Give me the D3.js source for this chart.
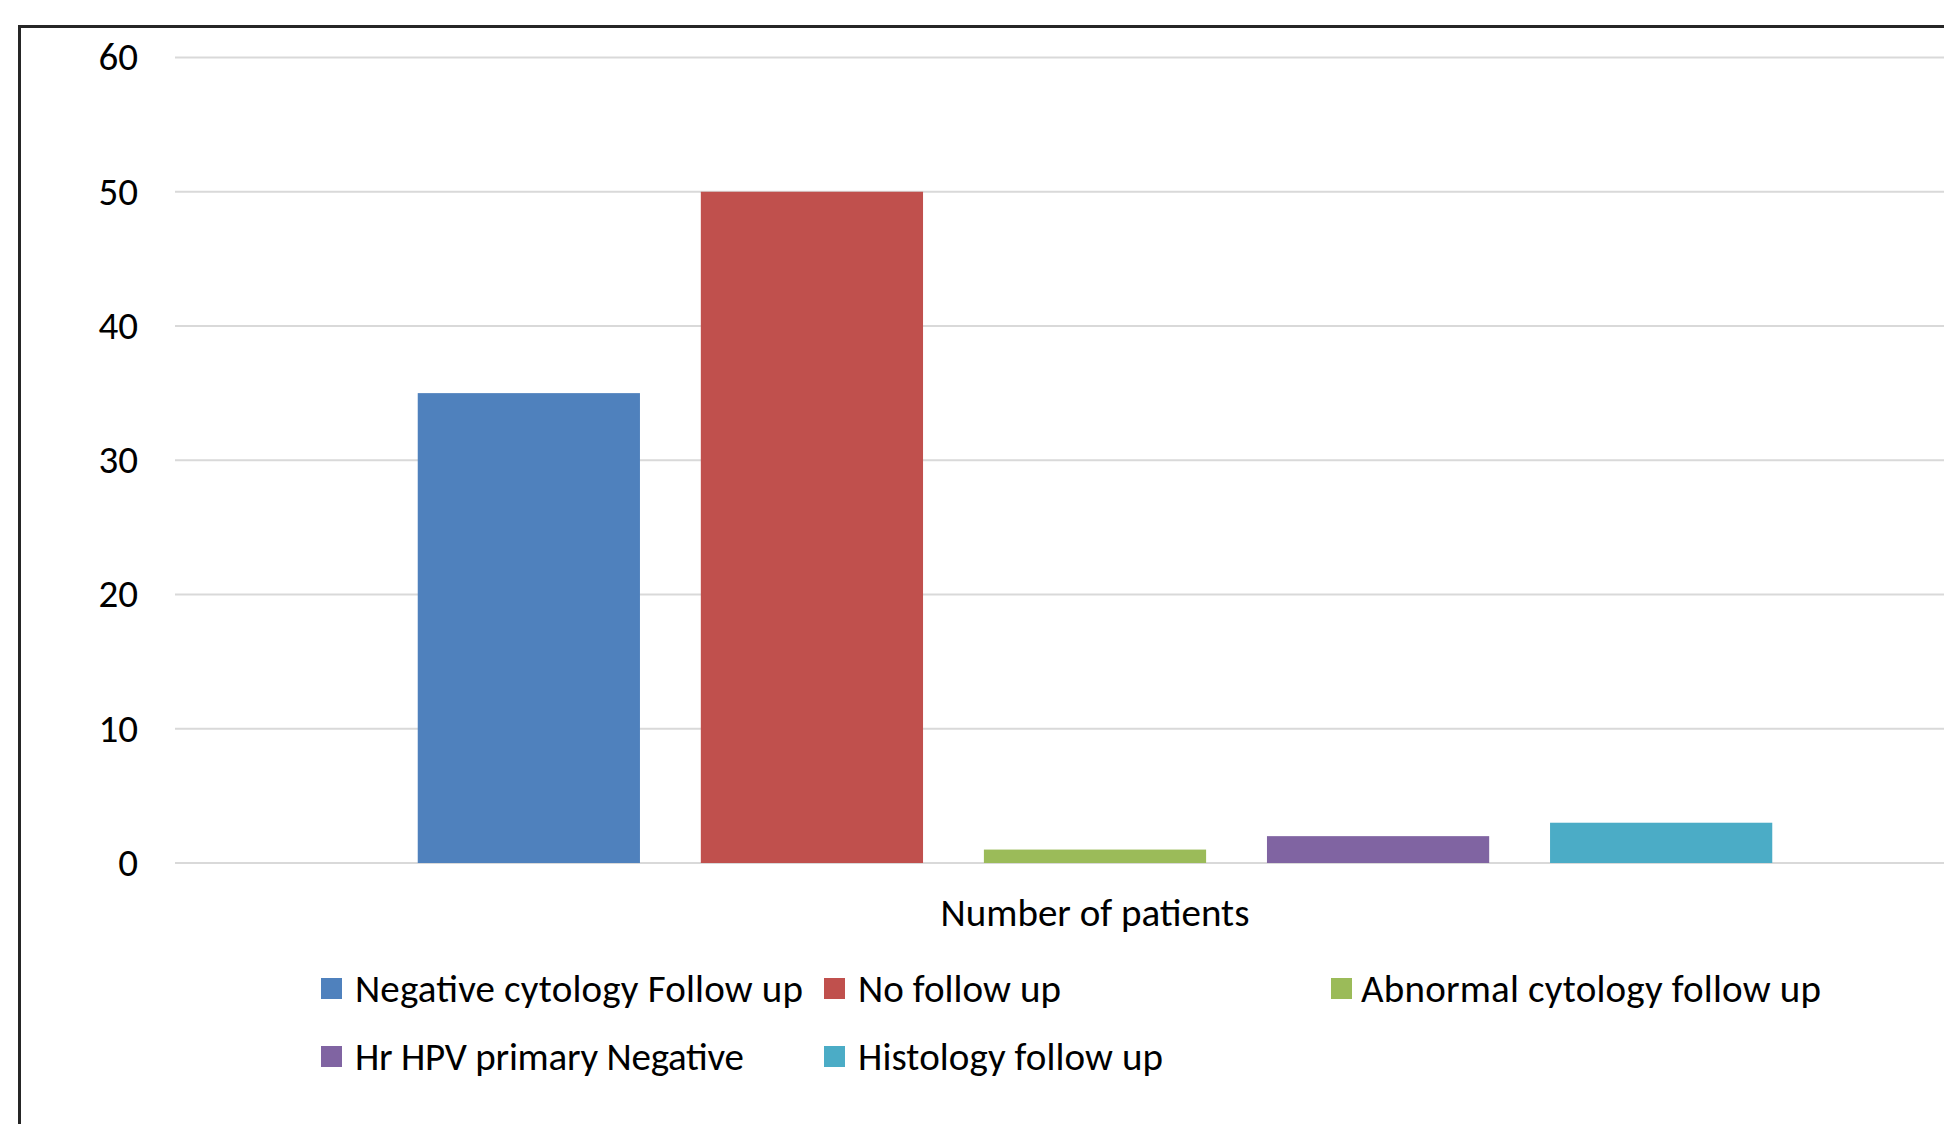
<!DOCTYPE html>
<html>
<head>
<meta charset="utf-8">
<script src="https://cdn.jsdelivr.net/npm/d3@7"></script>
<style>
  html, body { margin: 0; padding: 0; background: #fff; overflow: hidden; }
  svg { display: block; }
  text { font-family: Calibri, Carlito, Lato, "Open Sans", sans-serif; fill: #000; }
</style>
</head>
<body>
<svg id="chart" width="1944" height="1124"></svg>
<script>
// Follow-up outcome counts, one category with five series
const categories = ["Number of patients"];
const seriesNames = [
  "Negative cytology Follow up",
  "No follow up",
  "Abnormal cytology follow up",
  "Hr HPV primary Negative",
  "Histology follow up"
];
const seriesValues = [35, 50, 1, 2, 3];
const seriesColors = ["#4F81BD", "#C0504D", "#9BBB59", "#8064A2", "#4BACC6"];
const yTicks = [0, 10, 20, 30, 40, 50, 60];

const svg = d3.select("#chart");
const W = 1944, H = 1124;
const FONT = 39;

// chart frame
svg.append("rect")
  .attr("x", 19.5).attr("y", 26.5)
  .attr("width", 2100).attr("height", 1300)
  .attr("fill", "#fff")
  .attr("stroke", "#262626").attr("stroke-width", 3);

const plot = { left: 175, right: 2015, top: 57.5, bottom: 863 };

const y = d3.scaleLinear().domain([0, 60]).range([plot.bottom, plot.top]);

const x0 = d3.scaleBand()
  .domain(categories)
  .range([plot.left, plot.right])
  .paddingOuter(0.15).paddingInner(0);

const x1 = d3.scaleBand()
  .domain(seriesNames)
  .range([0, x0.bandwidth()])
  .paddingInner(0.215).paddingOuter(0.1075);

// horizontal gridlines
svg.append("g").selectAll("line")
  .data(yTicks)
  .join("line")
  .attr("x1", plot.left).attr("x2", W + 10)
  .attr("y1", d => y(d)).attr("y2", d => y(d))
  .attr("stroke", "#D9D9D9").attr("stroke-width", 2);

// y axis labels
const yAxis = d3.axisLeft(y).tickValues(yTicks).tickSize(0).tickPadding(0);
const yg = svg.append("g")
  .attr("transform", `translate(${138},0)`)
  .call(yAxis);
yg.select(".domain").remove();
yg.selectAll("text")
  .attr("font-family", "Calibri, Carlito, Lato, 'Open Sans', sans-serif")
  .attr("font-size", FONT)
  .attr("fill", "#000");

// bars
const rows = seriesNames.map((s, i) => ({ cat: categories[0], name: s, value: seriesValues[i], color: seriesColors[i] }));
svg.append("g").selectAll("rect")
  .data(rows)
  .join("rect")
  .attr("x", d => x0(d.cat) + x1(d.name))
  .attr("width", x1.bandwidth())
  .attr("y", d => y(d.value))
  .attr("height", d => y(0) - y(d.value))
  .attr("fill", d => d.color);

// category label
svg.append("text")
  .attr("x", x0(categories[0]) + x0.bandwidth() / 2)
  .attr("y", 912)
  .attr("text-anchor", "middle")
  .attr("dominant-baseline", "central")
  .attr("font-size", FONT)
  .text(categories[0]);

// legend
const legendPos = [
  { sx: 321, tx: 355, cy: 988, w: 448 },
  { sx: 824, tx: 858, cy: 988, w: 203 },
  { sx: 1331, tx: 1361, cy: 988, w: 460 },
  { sx: 321, tx: 355, cy: 1056, w: 389 },
  { sx: 824, tx: 858, cy: 1056, w: 305 }
];
const lg = svg.append("g").selectAll("g")
  .data(rows)
  .join("g");
lg.append("rect")
  .attr("x", (d, i) => legendPos[i].sx)
  .attr("y", (d, i) => legendPos[i].cy - 10)
  .attr("width", 21).attr("height", 21)
  .attr("fill", d => d.color);
lg.append("text")
  .attr("x", (d, i) => legendPos[i].tx)
  .attr("y", (d, i) => legendPos[i].cy)
  .attr("dominant-baseline", "central")
  .attr("font-size", FONT)
  .attr("textLength", (d, i) => legendPos[i].w)
  .attr("lengthAdjust", "spacing")
  .text(d => d.name);
</script>
</body>
</html>
